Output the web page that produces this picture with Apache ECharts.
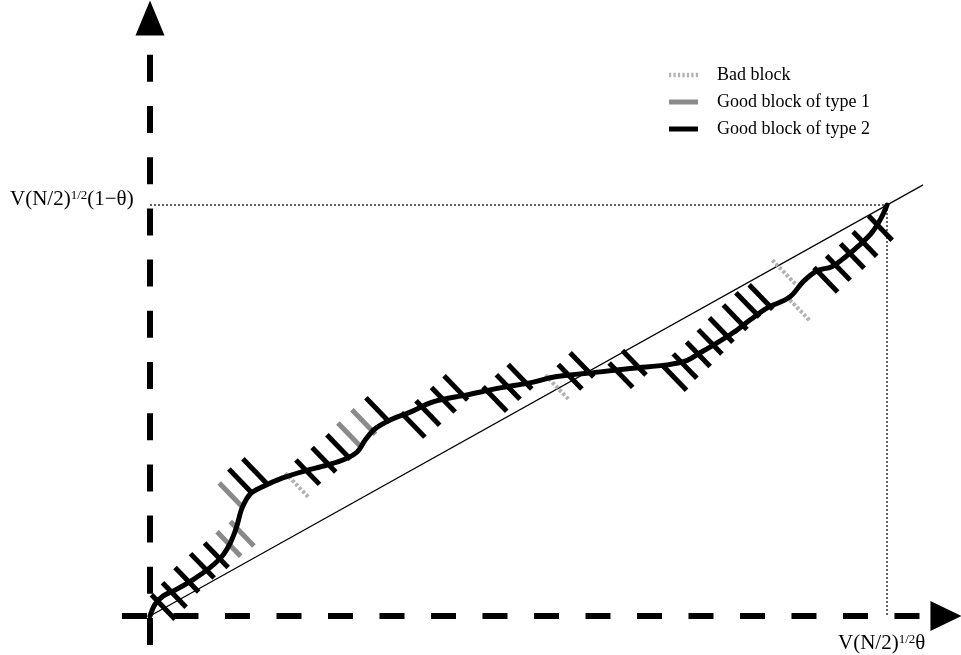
<!DOCTYPE html>
<html>
<head>
<meta charset="utf-8">
<script src="https://cdn.jsdelivr.net/npm/echarts@6/dist/echarts.min.js"></script>
<style>
html,body{margin:0;padding:0;background:#fff;}
#chart{width:961px;height:655px;}
</style>
</head>
<body>
<div id="chart"></div>
<script>
// ---- data (units: x in V(N/2)^{1/2}θ, y in V(N/2)^{1/2}(1−θ)) ----
const END_POINT = [1, 1];
const DIAGONAL_END = [1.049, 1.049];

const CURVE = [
  [0, 0], [0.007, 0.029], [0.018, 0.049], [0.034, 0.063], [0.058, 0.088],
  [0.081, 0.117], [0.098, 0.146], [0.109, 0.178], [0.117, 0.214], [0.125, 0.263],
  [0.136, 0.297], [0.152, 0.314], [0.180, 0.336], [0.210, 0.353], [0.240, 0.367],
  [0.265, 0.382], [0.281, 0.399], [0.292, 0.428], [0.305, 0.455], [0.326, 0.477],
  [0.353, 0.496], [0.384, 0.521], [0.430, 0.538], [0.475, 0.555], [0.520, 0.569],
  [0.550, 0.582], [0.611, 0.594], [0.655, 0.603], [0.701, 0.611], [0.726, 0.620],
  [0.746, 0.640], [0.769, 0.664], [0.791, 0.689], [0.814, 0.720], [0.837, 0.749],
  [0.868, 0.776], [0.886, 0.813], [0.905, 0.840], [0.925, 0.850], [0.943, 0.873],
  [0.963, 0.903], [0.980, 0.934], [0.992, 0.968], [1, 1]
];

const BAD_BLOCKS = [[0.199, 0.319], [0.552, 0.557], [0.860, 0.837], [0.879, 0.749]];
const GOOD1_BLOCKS = [[0.107, 0.175], [0.125, 0.200], [0.110, 0.294], [0.271, 0.440], [0.290, 0.472]];
const GOOD2_BLOCKS = [
  [0.018, 0.022], [0.033, 0.051], [0.050, 0.088], [0.071, 0.122], [0.090, 0.148],
  [0.123, 0.328], [0.142, 0.353], [0.214, 0.350], [0.236, 0.380], [0.256, 0.411],
  [0.309, 0.501], [0.357, 0.465], [0.377, 0.494], [0.398, 0.526], [0.415, 0.555],
  [0.468, 0.528], [0.486, 0.557], [0.502, 0.582], [0.570, 0.582], [0.586, 0.611],
  [0.639, 0.586], [0.657, 0.616], [0.712, 0.579], [0.726, 0.608], [0.744, 0.637],
  [0.760, 0.667], [0.775, 0.696], [0.794, 0.727], [0.811, 0.757], [0.829, 0.776],
  [0.917, 0.818], [0.934, 0.847], [0.953, 0.876], [0.970, 0.905], [0.991, 0.944]
];

const LEGEND_NAMES = ['Bad block', 'Good block of type 1', 'Good block of type 2'];
const X_AXIS_SPAN = [-0.038, 1.080];
const Y_AXIS_SPAN = [-0.0706, 1.455];

// ---- layout ----
const W = 961, H = 655;
const ORIGIN_PX = [150, 616], END_PX = [887, 205];
const sx = END_PX[0] - ORIGIN_PX[0], sy = ORIGIN_PX[1] - END_PX[1];
const xMin = -ORIGIN_PX[0] / sx, xMax = (W - ORIGIN_PX[0]) / sx;
const yMin = (ORIGIN_PX[1] - H) / sy, yMax = ORIGIN_PX[1] / sy;

const SERIF = "'Liberation Serif','Times New Roman',serif";
const TICK_ROT = 44;
const badPath = 'path://M0,0h4v3h-4zM0,5h4v3h-4zM0,10h4v3h-4zM0,15h4v3h-4zM0,20h4v3h-4zM0,25h4v3h-4zM0,30h4v3h-4z';
const badLegendIcon = 'path://M0,0h2v4h-2zM4,0h2v4h-2zM8,0h2v4h-2zM12,0h2v4h-2zM16,0h2v4h-2zM20,0h2v4h-2zM24,0h2v4h-2z';

const chart = echarts.init(document.getElementById('chart'), null, {renderer: 'canvas'});

chart.setOption({
  backgroundColor: '#fff',
  animation: false,
  grid: {left: 0, right: 0, top: 0, bottom: 0},
  xAxis: {type: 'value', min: xMin, max: xMax, show: false},
  yAxis: {type: 'value', min: yMin, max: yMax, show: false},
  legend: {
    orient: 'vertical', left: 664, top: 61,
    itemWidth: 29, itemHeight: 5, itemGap: 9,
    symbolRotate: 0,
    selectedMode: false,
    textStyle: {fontFamily: SERIF, fontSize: 18, color: '#000', padding: [0, 0, 0, 14], lineHeight: 18},
    data: [
      {name: LEGEND_NAMES[0], icon: badLegendIcon},
      {name: LEGEND_NAMES[1], icon: 'rect'},
      {name: LEGEND_NAMES[2], icon: 'rect'}
    ]
  },
  series: [
    {
      type: 'line', name: 'diagonal', silent: true, clip: false,
      data: [[0, 0], DIAGONAL_END], showSymbol: false, symbol: 'none',
      lineStyle: {color: '#000', width: 1.2}, z: 1,
      markLine: {
        silent: true, animation: false,
        label: {show: false},
        data: [
          [{coord: [X_AXIS_SPAN[0], 0], symbol: 'none', lineStyle: {color: '#000', width: 6, type: [25, 26.5]}},
           {coord: [X_AXIS_SPAN[1], 0], symbol: 'triangle', symbolSize: [30, 31]}],
          [{coord: [0, Y_AXIS_SPAN[0]], symbol: 'none', lineStyle: {color: '#000', width: 6, type: [27, 24.2]}},
           {coord: [0, Y_AXIS_SPAN[1]], symbol: 'triangle', symbolSize: [29, 35]}]
        ],
        lineStyle: {color: '#000', width: 6, type: 'dashed'},
        symbolKeepAspect: false
      }
    },
    {
      type: 'line', name: 'ref-h', silent: true, clip: false,
      data: [[0, END_POINT[1]], END_POINT], symbol: 'none',
      lineStyle: {color: '#222', width: 1.4, type: [2, 2]}, z: 1
    },
    {
      type: 'line', name: 'ref-v', silent: true, clip: false,
      data: [END_POINT, [END_POINT[0], 0]], symbol: 'none',
      lineStyle: {color: '#222', width: 1.4, type: [2, 2]}, z: 1
    },
    {
      type: 'scatter', name: LEGEND_NAMES[0], data: BAD_BLOCKS, clip: false, silent: true,
      symbol: badPath, symbolSize: [4, 33], symbolRotate: TICK_ROT,
      itemStyle: {color: '#b2b2b2', opacity: 1}, z: 2
    },
    {
      type: 'scatter', name: LEGEND_NAMES[1], data: GOOD1_BLOCKS, clip: false, silent: true,
      symbol: 'rect', symbolSize: [5, 34], symbolRotate: TICK_ROT,
      itemStyle: {color: '#8a8a8a', opacity: 1}, z: 2
    },
    {
      type: 'scatter', name: LEGEND_NAMES[2], data: GOOD2_BLOCKS, clip: false, silent: true,
      symbol: 'rect', symbolSize: [5, 34], symbolRotate: TICK_ROT,
      itemStyle: {color: '#000', opacity: 1}, z: 3
    },
    {
      type: 'line', name: 'curve', data: CURVE, smooth: 0.35, clip: false, silent: true,
      symbol: 'none', lineStyle: {color: '#000', width: 5, cap: 'round', join: 'round'}, z: 4
    }
  ],
  graphic: [
    {
      type: 'text', left: 10, top: 189, silent: true,
      style: {
        text: 'V(N/2){s|1/2}(1−θ)',
        font: '21px ' + SERIF, fill: '#000',
        rich: {s: {fontSize: 13, fontFamily: SERIF, verticalAlign: 'top', fill: '#000'}}
      }
    },
    {
      type: 'text', left: 838, top: 633, silent: true,
      style: {
        text: 'V(N/2){s|1/2}θ',
        font: '21px ' + SERIF, fill: '#000',
        rich: {s: {fontSize: 13, fontFamily: SERIF, verticalAlign: 'top', fill: '#000'}}
      }
    }
  ]
});
</script>
</body>
</html>
